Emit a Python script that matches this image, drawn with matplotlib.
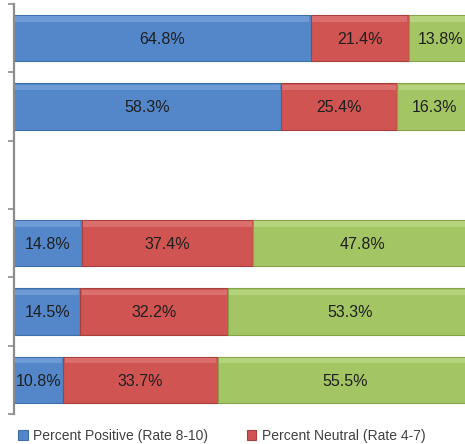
import numpy as np
import matplotlib
matplotlib.use("Agg")
import matplotlib.pyplot as plt

plt.rcParams['font.family'] = ['Liberation Sans', 'DejaVu Sans']

# Rows from top to bottom; None marks an empty row
positive = [64.8, 58.3, None, 14.8, 14.5, 10.8]
neutral = [21.4, 25.4, None, 37.4, 32.2, 33.7]
negative = [13.8, 16.3, None, 47.8, 53.3, 55.5]
series_names = ["Percent Positive (Rate 8-10)",
                "Percent Neutral (Rate 4-7)",
                "Percent Negative (Rate 0-3)"]
colors = ["#5387C9", "#CF5452", "#A4C563"]
highlights = ["#6E9BD6", "#DA6F6D", "#B5D27C"]
edges = ["#3F6FA8", "#A8403E", "#86A34A"]

fig = plt.figure(figsize=(4.65, 4.44), dpi=100)
ax = fig.add_axes([14 / 465, 1 - 414 / 444, 458 / 465, 410 / 444])

n = len(positive)
rows = [i for i in range(n) if positive[i] is not None]
y = np.array(rows, dtype=float)
bar_h = 0.68

left = np.zeros(len(rows))
bars = []
for vals, c, hl, ec, name in zip([positive, neutral, negative], colors,
                                 highlights, edges, series_names):
    w = np.array([vals[i] for i in rows], dtype=float)
    b = ax.barh(y, w, left=left, height=bar_h, color=c, edgecolor=ec,
                linewidth=0.8, label=name, zorder=2)
    bars.append(b)
    # soft bevel strip along the top of each segment
    ax.barh(y - bar_h / 2 + 0.06, w - 0.6, left=left + 0.3, height=0.08,
            color=hl, linewidth=0, zorder=3)
    for yi, li, wi in zip(y, left, w):
        ax.text(li + wi / 2, yi + 0.02, f"{wi:.1f}%", ha='center',
                va='center', fontsize=11.5, color='#1f1f1f', zorder=4)
    left = left + w

ax.set_xlim(0, 100)
ax.set_ylim(n - 0.5, -0.5)

for s in ['top', 'right', 'bottom']:
    ax.spines[s].set_visible(False)
ax.spines['left'].set_color('#8c8c8c')
ax.spines['left'].set_linewidth(1.6)
ax.set_xticks([])
ax.set_yticks([])
ax.set_yticks(np.arange(-0.5, n, 1.0), minor=True)
ax.tick_params(axis='y', which='minor', length=4, width=1.2,
               color='#8c8c8c', labelleft=False)

# the legend row runs past the right edge, so only the first two entries fit
fig.legend(bars[:2], series_names[:2],
           loc='center left', bbox_to_anchor=(0.012, 0.018), ncol=2,
           frameon=False, fontsize=10, handlelength=0.7,
           handleheight=0.7, handletextpad=0.4, columnspacing=2.75,
           labelcolor='#404040')

fig.savefig("out.png", dpi=100)
